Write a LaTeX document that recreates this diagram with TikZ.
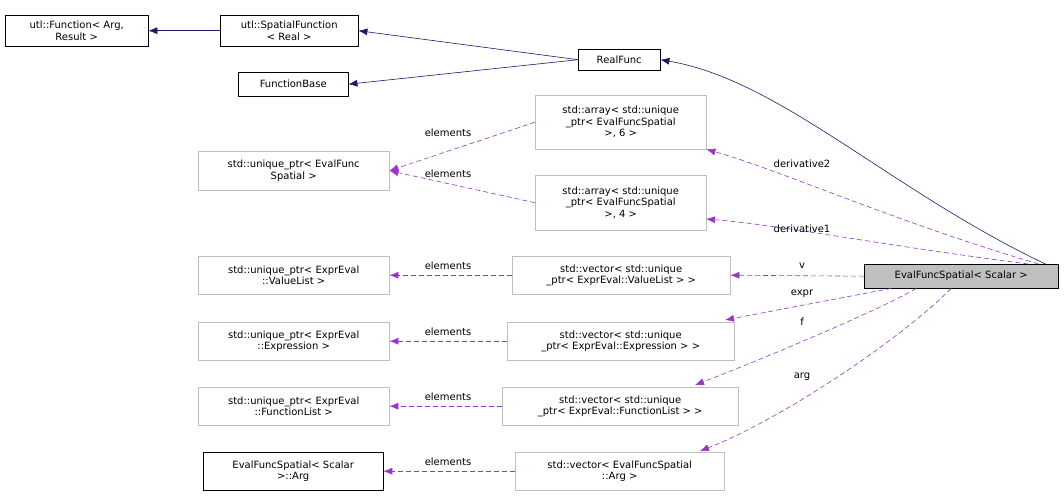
\documentclass[tikz,border=0pt]{standalone}
\usepackage{fontspec}
\setmainfont{DejaVu Sans}
\usetikzlibrary{arrows.meta}
\definecolor{inhcolor}{HTML}{191970}
\definecolor{usecolor}{HTML}{9A32CD}
\definecolor{greyline}{HTML}{BFBFBF}
\tikzset{
  cls/.style={draw=black, fill=white, font=\fontsize{10}{11.5}\selectfont, align=center, inner sep=2pt, anchor=north west},
  ext/.style={cls, draw=greyline},
  inh/.style={draw=inhcolor, semithick, -{Latex[length=9pt,width=7pt]}},
  use/.style={draw=usecolor, semithick, dash pattern=on 5pt off 3pt, -{Latex[length=9pt,width=7pt]}},
  lbl/.style={font=\fontsize{10}{11.5}\selectfont, inner sep=1pt}
}
\newcommand{\bx}[6]{% name, style, x1, y1, x2, y2, text given after
  \node[#2, minimum width=#5-#3, minimum height=#6-#4] (#1) at (#3,#4)}
\begin{document}
\begin{tikzpicture}[x=1pt,y=-1pt]
\useasboundingbox (0,0) rectangle (1064,497);
% inheritance
\bx{fn}{cls}{5}{15}{148}{46} {utl::Function\textless{} Arg,\\Result \textgreater};
\bx{sfn}{cls}{220}{15}{358}{46} {utl::SpatialFunction\\\textless{} Real \textgreater};
\bx{fbase}{cls}{238}{72}{348}{96} {FunctionBase};
\bx{rfunc}{cls}{578}{49}{660}{70} {RealFunc};
\bx{efs}{cls, fill=greyline}{864}{264}{1058}{288} {EvalFuncSpatial\textless{} Scalar \textgreater};
% members
\bx{arr6}{ext}{535}{95}{706}{149} {std::array\textless{} std::unique\\\_ptr\textless{} EvalFuncSpatial\\\textgreater, 6 \textgreater};
\bx{arr4}{ext}{535}{175}{706}{230} {std::array\textless{} std::unique\\\_ptr\textless{} EvalFuncSpatial\\\textgreater, 4 \textgreater};
\bx{upefs}{ext}{198}{151}{389}{190} {std::unique\_ptr\textless{} EvalFunc\\Spatial \textgreater};
\bx{upvl}{ext}{198}{256}{389}{294} {std::unique\_ptr\textless{} ExprEval\\::ValueList \textgreater};
\bx{vecvl}{ext}{512}{256}{730}{294} {std::vector\textless{} std::unique\\\_ptr\textless{} ExprEval::ValueList \textgreater{} \textgreater};
\bx{upex}{ext}{198}{322}{389}{360} {std::unique\_ptr\textless{} ExprEval\\::Expression \textgreater};
\bx{vecex}{ext}{507}{322}{734}{360} {std::vector\textless{} std::unique\\\_ptr\textless{} ExprEval::Expression \textgreater{} \textgreater};
\bx{upfl}{ext}{198}{387}{389}{425} {std::unique\_ptr\textless{} ExprEval\\::FunctionList \textgreater};
\bx{vecfl}{ext}{502}{387}{738}{425} {std::vector\textless{} std::unique\\\_ptr\textless{} ExprEval::FunctionList \textgreater{} \textgreater};
\bx{arg}{cls}{203}{452}{383}{490} {EvalFuncSpatial\textless{} Scalar\\\textgreater::Arg};
\bx{vecarg}{ext}{515}{452}{724}{490} {std::vector\textless{} EvalFuncSpatial\\::Arg \textgreater};

\draw[inh] (sfn.west) -- (fn.east);
\draw[inh] (rfunc.west) -- (sfn.east);
\draw[inh] (rfunc.west) -- (fbase.east);
\draw[inh] ([xshift=-13pt]efs.north east) .. controls (890,190) and (780,80) .. (rfunc.east);

\draw[use] (arr6.west) -- (upefs.east);
\draw[use] (arr4.west) -- (upefs.east);
\draw[use] (vecvl.west) -- (upvl.east);
\draw[use] (vecex.west) -- (upex.east);
\draw[use] (vecfl.west) -- (upfl.east);
\draw[use] (vecarg.west) -- (arg.east);
\foreach \ey in {133,174,266,332,397,462}
  \node[lbl] (el\ey) at (448,\ey) {elements};

\draw[use] ([xshift=-20pt]efs.north east) .. controls (890,220) and (780,170) .. (arr6.south east);
\draw[use] ([xshift=-30pt]efs.north east) .. controls (880,245) and (780,225) .. (706,219);
\draw[use] (efs.west) -- (vecvl.east);
\draw[use] ([xshift=-70pt]efs.south) -- (725,320);
\draw[use] ([xshift=-45pt]efs.south) .. controls (880,310) and (760,360) .. (695,385);
\draw[use] ([xshift=-10pt]efs.south) .. controls (900,340) and (780,420) .. (700,451);
\node[lbl] (lbd2) at (802,164) {derivative2};
\node[lbl] (lbd1) at (802,229) {derivative1};
\node[lbl] (lbv) at (802,266) {v};
\node[lbl] (lbexpr) at (802,294) {expr};
\node[lbl] (lbf) at (802,322) {f};
\node[lbl] (lbarg) at (802,377) {arg};
\end{tikzpicture}
\end{document}
